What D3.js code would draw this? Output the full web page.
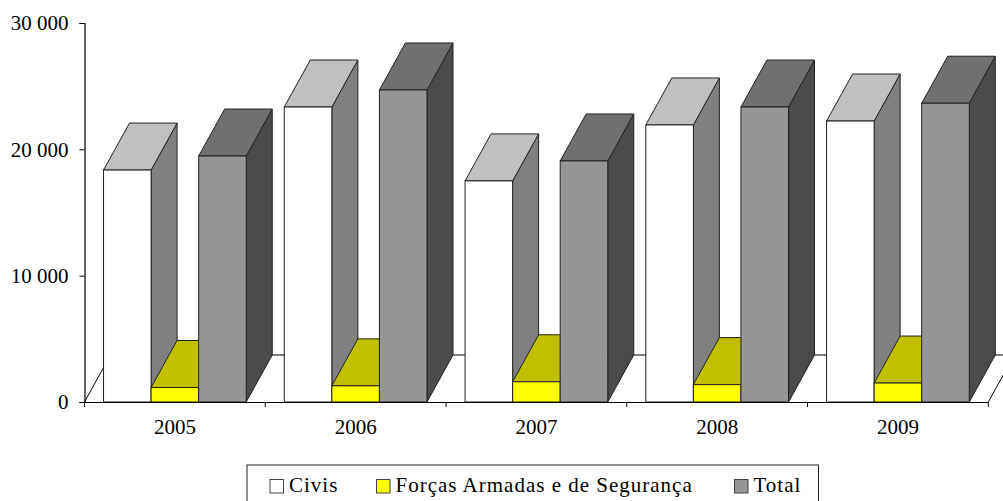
<!DOCTYPE html>
<html>
<head>
<meta charset="utf-8">
<script src="https://d3js.org/d3.v7.min.js"></script>
<style>
body { margin: 0; background: #fff; }
text { font-family: "Liberation Serif", serif; fill: #000; }
</style>
</head>
<body>
<div id="chart"></div>
<script>
var years = ["2005", "2006", "2007", "2008", "2009"];
var civis = [18360, 23350, 17500, 21930, 22240];
var forcas = [1150, 1280, 1600, 1380, 1500];
var total = [19470, 24700, 19080, 23350, 23650];
var yTicks = [0, 10000, 20000, 30000];
var seriesNames = ["Civis", "Forças Armadas e de Segurança", "Total"];

var width = 1003, height = 501;
var margin = {left: 84.5, right: 14.7, top: 23, bottom: 99};
var depth = {x: 26, y: 47};

var series = [
    {name: seriesNames[0], values: civis, front: "#ffffff", top: "#c0c0c0", side: "#808080"},
    {name: seriesNames[1], values: forcas, front: "#ffff00", top: "#c0c000", side: "#808000"},
    {name: seriesNames[2], values: total, front: "#969696", top: "#707070", side: "#4b4b4b"}
];

var svg = d3.select("#chart")
    .append("svg")
    .attr("width", width)
    .attr("height", height)
    .style("display", "block");

// x scale for the years, inner scale for the three bars of a year
var x = d3.scaleBand()
    .domain(years)
    .range([margin.left, width - margin.right]);

var xInner = d3.scaleBand()
    .domain(seriesNames)
    .range([0, x.bandwidth()])
    .paddingInner(0)
    .paddingOuter(0.4);

var y = d3.scaleLinear()
    .domain([0, 30000])
    .range([height - margin.bottom, margin.top]);

var y0 = y(0);

// floor of the 3d plot
svg.append("path")
    .attr("d", "M" + x.range()[0] + "," + y0 + "L" + (x.range()[0] + depth.x) + "," + (y0 - depth.y)
        + "L" + (x.range()[1] + depth.x) + "," + (y0 - depth.y) + "L" + x.range()[1] + "," + y0)
    .attr("fill", "none")
    .attr("stroke", "#000")
    .attr("stroke-width", 1);

svg.append("line")
    .attr("x1", x.range()[0] + depth.x)
    .attr("x2", x.range()[1] + depth.x)
    .attr("y1", y0 - depth.y)
    .attr("y2", y0 - depth.y)
    .attr("stroke", "#808080")
    .attr("stroke-width", 1.5);

// bars, drawn left to right so the next bar covers the side of the previous one
years.forEach(function (year, i) {
    var g = svg.append("g");
    series.forEach(function (s) {
        var x0 = x(year) + xInner(s.name);
        var x1 = x0 + xInner.bandwidth();
        var yv = y(s.values[i]);

        g.append("path")
            .attr("d", "M" + x1 + "," + yv + "L" + (x1 + depth.x) + "," + (yv - depth.y)
                + "L" + (x1 + depth.x) + "," + (y0 - depth.y) + "L" + x1 + "," + y0 + "Z")
            .attr("fill", s.side)
            .attr("stroke", "#222")
            .attr("stroke-width", 1);

        g.append("path")
            .attr("d", "M" + x0 + "," + yv + "L" + (x0 + depth.x) + "," + (yv - depth.y)
                + "L" + (x1 + depth.x) + "," + (yv - depth.y) + "L" + x1 + "," + yv + "Z")
            .attr("fill", s.top)
            .attr("stroke", "#222")
            .attr("stroke-width", 1);

        g.append("rect")
            .attr("x", x0)
            .attr("y", yv)
            .attr("width", xInner.bandwidth())
            .attr("height", y0 - yv)
            .attr("fill", s.front)
            .attr("stroke", "#222")
            .attr("stroke-width", 1);
    });
});

// y axis
var yAxis = svg.append("g")
    .attr("transform", "translate(" + margin.left + ",0)")
    .call(d3.axisLeft(y)
        .tickValues(yTicks)
        .tickSize(5)
        .tickPadding(11)
        .tickFormat(function (d) { return d3.format(",")(d).replace(",", " "); }));

yAxis.selectAll("text").attr("font-size", 21).style("font-family", "Liberation Serif");

// x axis, ticks sit between the years
var xAxis = svg.append("g")
    .attr("transform", "translate(0," + y0 + ")")
    .call(d3.axisBottom(x).tickSize(0).tickPadding(17).tickSizeOuter(0));

xAxis.selectAll("text").attr("font-size", 21).style("font-family", "Liberation Serif");

xAxis.selectAll("line.edge")
    .data(years.concat(["end"]))
    .enter()
    .append("line")
    .attr("class", "edge")
    .attr("x1", function (d) { return d === "end" ? x.range()[1] : x(d); })
    .attr("x2", function (d) { return d === "end" ? x.range()[1] : x(d); })
    .attr("y1", 0)
    .attr("y2", 5)
    .attr("stroke", "#000");

svg.selectAll(".domain").attr("stroke", "#000").attr("stroke-width", 1.2);

// legend
var legendX = [270, 376.5, 734.5];
var legend = svg.append("g");

legend.append("rect")
    .attr("x", 247)
    .attr("y", 465)
    .attr("width", 571.5)
    .attr("height", 40)
    .attr("fill", "#fff")
    .attr("stroke", "#222");

series.forEach(function (s, i) {
    legend.append("rect")
        .attr("x", legendX[i])
        .attr("y", 479.5)
        .attr("width", 13.5)
        .attr("height", 13.5)
        .attr("fill", s.front)
        .attr("stroke", "#444");

    legend.append("text")
        .attr("x", legendX[i] + 19)
        .attr("y", 492)
        .attr("font-size", 21)
        .attr("letter-spacing", 1)
        .text(s.name);
});
</script>
</body>
</html>
